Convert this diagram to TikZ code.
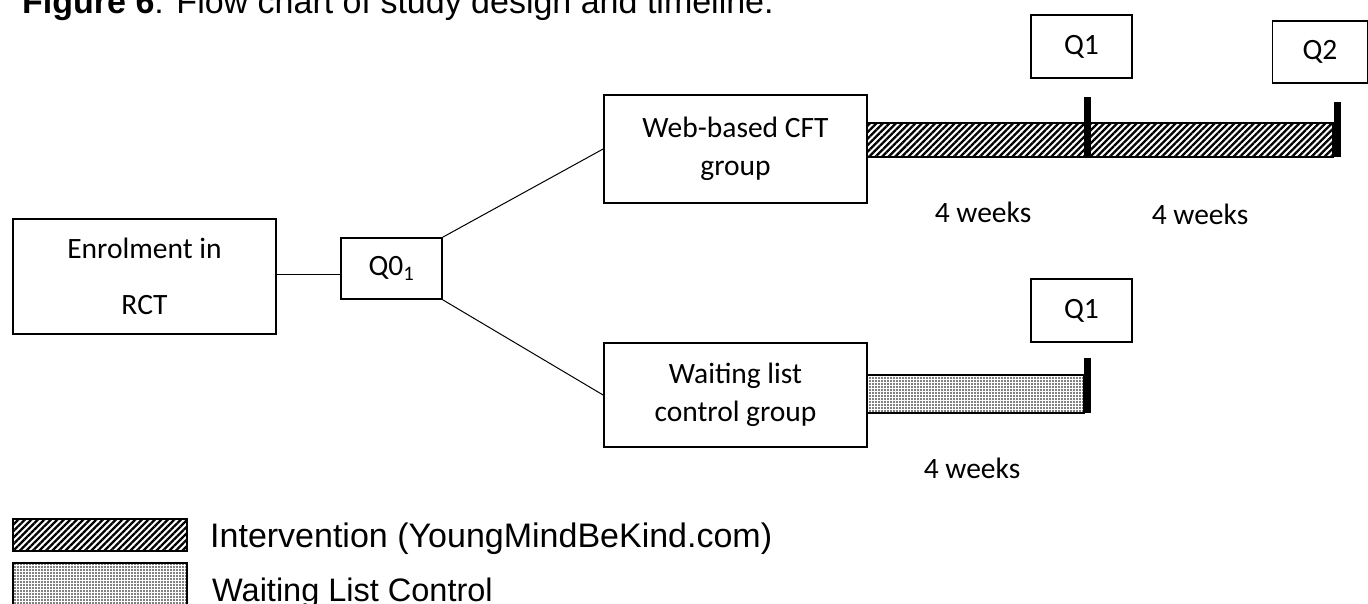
\documentclass[tikz,border=0pt]{standalone}
\usepackage{fontspec}
\newfontfamily\arialf{Liberation Sans}
\newfontfamily\calf{Carlito}
\usetikzlibrary{patterns.meta}
\begin{document}
\begin{tikzpicture}[x=1pt,y=-1pt,
  box/.style={draw, line width=1.8pt, inner sep=0pt, align=center, font=\calf\fontsize{29.5}{38}\selectfont},
  conn/.style={line width=1pt},
  hatchbar/.style={draw, line width=1.2pt, pattern={Lines[angle=45,distance=4.6pt,line width=2.3pt]}},
  dotbar/.style={draw, line width=1.2pt, pattern={Dots[distance=3pt,radius=0.9pt]}},
  tickmark/.style={line width=7pt},
  lbl/.style={font=\calf\fontsize{29.5}{34}\selectfont, inner sep=0pt},
  leg/.style={font=\arialf\fontsize{34}{40}\selectfont, anchor=base west, inner sep=0pt}]
\useasboundingbox (0,0) rectangle (1368,603);

% title (top partly cropped)
\node[anchor=base west, inner sep=0pt, font=\arialf\fontsize{34}{40}\selectfont] (title) at (22,13)
  {\textbf{Figure 6}: Flow chart of study design and timeline.};

% boxes
\node[box, minimum width=263pt, minimum height=115pt, font=\calf\fontsize{29.5}{56}\selectfont] (enrol) at (144.5,276.5) {Enrolment in\\RCT};
\node[box, minimum width=101pt, minimum height=61pt] (q0) at (391.5,268.5) {Q0\textsubscript{1}};
\node[box, minimum width=263pt, minimum height=108pt] (web) at (735.5,149) {Web-based CFT\\group};
\node[box, minimum width=263pt, minimum height=104pt] (wait) at (735.5,395) {Waiting list\\control group};
\node[box, minimum width=101pt, minimum height=63pt] (q1a) at (1081.5,46.5) {Q1};
\node[box, minimum width=95pt, minimum height=62pt] (q2) at (1320,52) {Q2};
\node[box, minimum width=101pt, minimum height=63pt] (q1b) at (1081.5,310.5) {Q1};

% connectors
\draw[conn] ([yshift=-5.5pt]q0.west) -- ([yshift=-5.5pt]q0.west -| enrol.east);
\draw[conn] (q0.north east) -- (web.west);
\draw[conn] (q0.south east) -- (wait.west);

% timeline bars
\draw[hatchbar] (867,123) rectangle (1333,157);
\draw[dotbar] (867,375) rectangle (1084,413);
\draw[tickmark] (1087.5,97) -- (1087.5,157);
\draw[tickmark] (1337,102) -- (1337,157);
\draw[tickmark] (1087,358) -- (1087,413);

% durations
\node[lbl] (w1) at (983,212) {4 weeks};
\node[lbl] (w2) at (1200,214) {4 weeks};
\node[lbl] (w3) at (972,468) {4 weeks};

% legend
\draw[hatchbar] (13,519) rectangle (187,551);
\draw[dotbar] (13,563) rectangle (187,615);
\node[leg] (legI) at (210,547) {Intervention (YoungMindBeKind.com)};
\node[leg, font=\arialf\fontsize{32.5}{40}\selectfont] (legW) at (212,601) {Waiting List Control};
\end{tikzpicture}
\end{document}
